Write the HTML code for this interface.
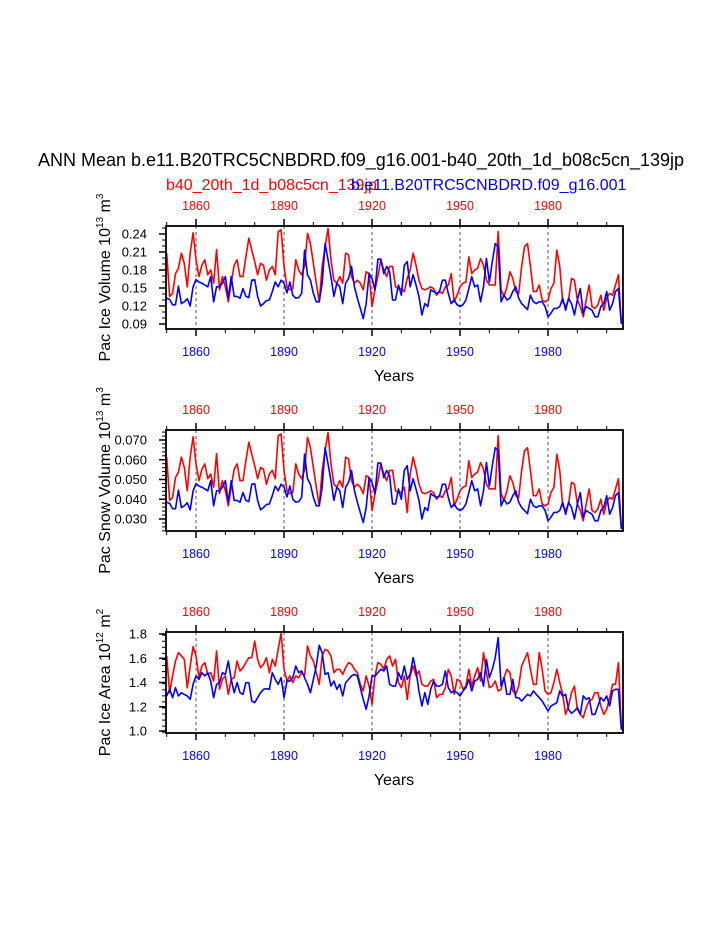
<!DOCTYPE html>
<html><head><meta charset="utf-8"><style>
html,body{margin:0;padding:0;background:#fff;}
svg{display:block;font-family:"Liberation Sans",Arial,sans-serif;}
</style></head><body>
<svg id="chart" width="723" height="935" viewBox="0 0 723 935" xmlns="http://www.w3.org/2000/svg">
<text x="361" y="166" font-size="18" text-anchor="middle" fill="#000">ANN Mean b.e11.B20TRC5CNBDRD.f09_g16.001-b40_20th_1d_b08c5cn_139jp</text>
<text x="166" y="190" font-size="16" fill="#ff0000">b40_20th_1d_b08c5cn_139jp</text>
<text x="351" y="190" font-size="16" fill="#0000ff">b.e11.B20TRC5CNBDRD.f09_g16.001</text>
<g id="plots"></g>
</svg>
<script>
const years = [];
for (let y = 1850; y <= 2005; y++) years.push(y);
const xTickYears = [1860, 1890, 1920, 1950, 1980];

const iceVolRed = [0.208,0.136,0.141,0.174,0.183,0.208,0.191,0.152,0.208,0.242,0.197,0.169,0.188,0.197,0.172,0.180,0.158,0.214,0.147,0.169,0.152,0.127,0.158,0.188,0.197,0.169,0.169,0.202,0.233,0.213,0.194,0.172,0.191,0.188,0.163,0.180,0.186,0.172,0.244,0.247,0.186,0.152,0.147,0.149,0.197,0.180,0.172,0.186,0.241,0.224,0.191,0.158,0.127,0.186,0.219,0.249,0.197,0.163,0.158,0.169,0.158,0.208,0.205,0.169,0.158,0.163,0.158,0.147,0.177,0.174,0.119,0.147,0.169,0.197,0.180,0.169,0.186,0.186,
0.152,0.149,0.149,0.144,0.166,0.180,0.208,0.188,0.163,0.149,0.147,0.149,0.152,0.149,0.138,0.144,0.141,0.152,0.155,0.174,0.127,0.138,0.152,0.158,0.160,0.202,0.174,0.180,0.183,0.199,0.188,0.163,0.155,0.155,0.155,0.244,0.147,0.136,0.152,0.177,0.166,0.144,0.141,0.186,0.219,0.224,0.186,0.144,0.144,0.155,0.130,0.127,0.130,0.149,0.158,0.213,0.186,0.127,0.119,0.130,0.166,0.163,0.130,0.119,0.102,0.130,0.155,0.119,0.116,0.122,0.138,0.113,0.133,0.141,0.138,0.155,0.172,0.090];
const iceVolBlue = [0.133,0.131,0.122,0.122,0.153,0.124,0.127,0.132,0.120,0.152,0.164,0.160,0.158,0.155,0.152,0.169,0.127,0.152,0.152,0.158,0.169,0.133,0.169,0.136,0.136,0.133,0.149,0.136,0.134,0.163,0.164,0.136,0.120,0.124,0.129,0.130,0.144,0.160,0.152,0.163,0.158,0.142,0.160,0.138,0.133,0.134,0.141,0.213,0.172,0.163,0.141,0.127,0.127,0.158,0.224,0.197,0.169,0.136,0.158,0.152,0.124,0.158,0.166,0.186,0.152,0.133,0.116,0.099,0.124,0.174,0.166,0.147,0.198,0.198,0.174,0.186,0.177,0.130,
0.130,0.155,0.138,0.188,0.194,0.152,0.172,0.155,0.136,0.105,0.124,0.119,0.147,0.144,0.141,0.144,0.163,0.163,0.141,0.124,0.130,0.122,0.119,0.122,0.130,0.149,0.169,0.152,0.155,0.127,0.152,0.199,0.160,0.194,0.224,0.219,0.127,0.138,0.130,0.133,0.144,0.152,0.133,0.124,0.119,0.114,0.138,0.127,0.124,0.127,0.127,0.119,0.102,0.108,0.116,0.116,0.119,0.133,0.113,0.133,0.124,0.105,0.130,0.149,0.108,0.119,0.116,0.113,0.102,0.102,0.119,0.124,0.144,0.113,0.124,0.144,0.149,0.090];

const snowVolRed = [0.0613,0.0394,0.0409,0.0510,0.0537,0.0613,0.0561,0.0443,0.0613,0.0716,0.0579,0.0494,0.0552,0.0579,0.0504,0.0528,0.0461,0.0631,0.0428,0.0494,0.0443,0.0367,0.0461,0.0552,0.0579,0.0494,0.0494,0.0595,0.0689,0.0628,0.0570,0.0504,0.0561,0.0552,0.0476,0.0528,0.0546,0.0504,0.0722,0.0731,0.0546,0.0443,0.0428,0.0434,0.0579,0.0528,0.0504,0.0546,0.0713,0.0661,0.0561,0.0461,0.0367,0.0546,0.0646,0.0737,0.0579,0.0476,0.0461,0.0494,0.0461,0.0613,0.0604,0.0494,0.0461,0.0476,0.0461,0.0428,0.0519,0.0510,0.0343,0.0428,0.0494,0.0579,0.0528,0.0494,0.0546,0.0546,
0.0443,0.0434,0.0434,0.0461,0.0333,0.0528,0.0613,0.0552,0.0476,0.0434,0.0428,0.0434,0.0443,0.0434,0.0400,0.0418,0.0409,0.0443,0.0452,0.0510,0.0367,0.0400,0.0443,0.0461,0.0467,0.0595,0.0510,0.0528,0.0537,0.0586,0.0552,0.0476,0.0452,0.0452,0.0452,0.0722,0.0428,0.0394,0.0443,0.0519,0.0485,0.0418,0.0409,0.0546,0.0646,0.0661,0.0546,0.0418,0.0418,0.0452,0.0376,0.0367,0.0376,0.0434,0.0461,0.0628,0.0546,0.0367,0.0343,0.0376,0.0485,0.0476,0.0376,0.0343,0.0291,0.0376,0.0452,0.0343,0.0333,0.0352,0.0400,0.0324,0.0385,0.0409,0.0400,0.0452,0.0504,0.0254];
const snowVolBlue = [0.0385,0.0379,0.0352,0.0352,0.0446,0.0358,0.0367,0.0382,0.0346,0.0443,0.0479,0.0467,0.0461,0.0452,0.0443,0.0494,0.0367,0.0443,0.0443,0.0461,0.0494,0.0385,0.0494,0.0394,0.0394,0.0385,0.0434,0.0394,0.0388,0.0476,0.0479,0.0394,0.0346,0.0358,0.0373,0.0376,0.0418,0.0467,0.0443,0.0476,0.0461,0.0412,0.0467,0.0400,0.0385,0.0388,0.0409,0.0628,0.0504,0.0476,0.0409,0.0367,0.0367,0.0461,0.0661,0.0579,0.0494,0.0394,0.0461,0.0443,0.0358,0.0461,0.0485,0.0546,0.0443,0.0385,0.0333,0.0282,0.0358,0.0510,0.0485,0.0428,0.0583,0.0583,0.0510,0.0546,0.0519,0.0376,
0.0376,0.0452,0.0400,0.0546,0.0570,0.0443,0.0504,0.0452,0.0394,0.0300,0.0358,0.0343,0.0428,0.0418,0.0409,0.0418,0.0476,0.0476,0.0409,0.0358,0.0376,0.0352,0.0343,0.0352,0.0376,0.0434,0.0494,0.0443,0.0452,0.0367,0.0443,0.0586,0.0467,0.0570,0.0661,0.0646,0.0367,0.0400,0.0376,0.0385,0.0418,0.0443,0.0385,0.0358,0.0343,0.0327,0.0400,0.0367,0.0358,0.0367,0.0367,0.0343,0.0291,0.0309,0.0333,0.0333,0.0343,0.0385,0.0324,0.0385,0.0358,0.0300,0.0376,0.0434,0.0309,0.0343,0.0333,0.0324,0.0291,0.0291,0.0343,0.0358,0.0418,0.0324,0.0358,0.0418,0.0434,0.0250];

const iceAreaRed = [1.619,1.316,1.454,1.577,1.646,1.619,1.591,1.357,1.536,1.696,1.619,1.440,1.536,1.564,1.467,1.481,1.412,1.660,1.344,1.426,1.454,1.302,1.426,1.440,1.577,1.495,1.522,1.564,1.605,1.605,1.742,1.591,1.522,1.550,1.605,1.481,1.591,1.536,1.674,1.806,1.509,1.412,1.454,1.399,1.454,1.440,1.481,1.454,1.701,1.619,1.577,1.481,1.385,1.619,1.674,1.660,1.619,1.481,1.509,1.509,1.467,1.522,1.564,1.550,1.509,1.481,1.385,1.330,1.454,1.371,1.220,1.454,1.564,1.550,1.509,1.591,1.619,1.536,
1.591,1.399,1.357,1.454,1.261,1.454,1.536,1.454,1.495,1.385,1.371,1.371,1.412,1.426,1.275,1.302,1.302,1.357,1.509,1.454,1.302,1.426,1.412,1.344,1.371,1.509,1.371,1.454,1.522,1.412,1.646,1.481,1.357,1.371,1.412,1.330,1.344,1.440,1.509,1.481,1.330,1.302,1.371,1.536,1.591,1.646,1.509,1.385,1.385,1.646,1.509,1.330,1.302,1.316,1.399,1.509,1.399,1.302,1.137,1.206,1.316,1.371,1.179,1.137,1.110,1.192,1.247,1.261,1.316,1.316,1.206,1.137,1.179,1.275,1.385,1.385,1.564,1.020];
const iceAreaBlue = [1.289,1.344,1.275,1.357,1.289,1.316,1.302,1.289,1.261,1.385,1.454,1.426,1.481,1.454,1.481,1.412,1.275,1.385,1.399,1.481,1.467,1.577,1.426,1.316,1.399,1.316,1.302,1.399,1.399,1.247,1.234,1.275,1.316,1.344,1.349,1.344,1.481,1.426,1.385,1.440,1.275,1.412,1.412,1.440,1.536,1.481,1.495,1.440,1.385,1.316,1.426,1.536,1.707,1.646,1.467,1.481,1.371,1.412,1.344,1.385,1.289,1.399,1.426,1.454,1.467,1.454,1.357,1.261,1.179,1.289,1.454,1.454,1.481,1.509,1.495,1.536,1.385,1.371,
1.371,1.481,1.426,1.536,1.426,1.467,1.605,1.495,1.330,1.206,1.316,1.220,1.344,1.412,1.371,1.371,1.385,1.495,1.357,1.316,1.330,1.316,1.289,1.330,1.357,1.426,1.330,1.412,1.426,1.481,1.371,1.591,1.440,1.509,1.605,1.770,1.371,1.440,1.302,1.302,1.426,1.275,1.275,1.247,1.275,1.302,1.289,1.330,1.302,1.275,1.247,1.206,1.165,1.206,1.220,1.234,1.330,1.289,1.302,1.179,1.146,1.165,1.192,1.137,1.289,1.261,1.275,1.137,1.137,1.206,1.275,1.247,1.289,1.206,1.330,1.344,1.344,1.010];

const panels = [
  {name:'ice-volume', top:226, bottom:329, vTop:0.24, yTop:234, vBot:0.09, yBot:324, ticks:[0.09,0.12,0.15,0.18,0.21,0.24], minorStep:0.01, minorMin:0.08, minorMax:0.25, dec:2, red:iceVolRed, blue:iceVolBlue, title:'Pac Ice Volume 10', exp:'13', unit:' m', uexp:'3'},
  {name:'snow-volume', top:430, bottom:531, vTop:0.07, yTop:440, vBot:0.03, yBot:519, ticks:[0.03,0.04,0.05,0.06,0.07], minorStep:0.002, minorMin:0.024, minorMax:0.075, dec:3, red:snowVolRed, blue:snowVolBlue, title:'Pac Snow Volume 10', exp:'13', unit:' m', uexp:'3'},
  {name:'ice-area', top:632, bottom:733, vTop:1.8, yTop:634, vBot:1.0, yBot:731, ticks:[1.0,1.2,1.4,1.6,1.8], minorStep:0.05, minorMin:0.99, minorMax:1.81, dec:1, red:iceAreaRed, blue:iceAreaBlue, title:'Pac Ice Area 10', exp:'12', unit:' m', uexp:'2'}
];
const L = 166, R = 623;
function xs(yr){ return 166.7 + (yr - 1850) * 2.9333; }
const NS = 'http://www.w3.org/2000/svg';
const root = document.getElementById('plots');
function mk(tag, attrs, parent){ const e = document.createElementNS(NS, tag); for (const k in attrs) e.setAttribute(k, attrs[k]); (parent||root).appendChild(e); return e; }

panels.forEach(p => {
  const ys = v => p.yBot + (v - p.vBot) * (p.yTop - p.yBot) / (p.vTop - p.vBot);
  const g = mk('g', {});
  
  
  const clipId = 'clip-' + p.name;
  const cp = mk('clipPath', {id: clipId}, g);
  mk('rect', {x:L, y:p.top, width:R-L, height:p.bottom-p.top}, cp);
  xTickYears.forEach(yr => {
    const l = mk('line', {x1:xs(yr), x2:xs(yr), y1:p.top, y2:p.bottom, stroke:'#555', 'stroke-width':1, 'stroke-dasharray':'3,3'}, g);
    
    
  });
  [['red', p.red, '#ff0000'], ['blue', p.blue, '#0000ff']].forEach(([nm, arr, col]) => {
    const d = arr.map((v, i) => (i ? 'L' : 'M') + xs(years[i]).toFixed(2) + ',' + ys(v).toFixed(2)).join('');
    const path = mk('path', {d: d, fill:'none', stroke: col, 'stroke-width':1.6, 'stroke-linejoin':'round', 'clip-path':'url(#' + clipId + ')'}, g);
    
    
  });
  const fr = mk('rect', {x:L, y:p.top, width:R-L, height:p.bottom-p.top, fill:'none', stroke:'#000', 'stroke-width':1.8}, g);
  
  
  for (let v = p.minorMin; v <= p.minorMax + 1e-9; v += p.minorStep) {
    const y = ys(v); if (y < p.top - 0.5 || y > p.bottom + 0.5) continue;
    mk('line', {x1:L-4, x2:L, y1:y, y2:y, stroke:'#000', 'stroke-width':1}, g);
  }
  p.ticks.forEach(v => {
    const y = ys(v);
    mk('line', {x1:L-7, x2:L, y1:y, y2:y, stroke:'#000', 'stroke-width':1.5}, g);
    const t = mk('text', {x:L-19, y:y+4.5, 'font-size':13, 'text-anchor':'end', fill:'#000'}, g);
    t.textContent = v.toFixed(p.dec);
    
    
  });
  for (let yr = 1850; yr <= 2000; yr += 10) {
    const x = xs(yr); const major = xTickYears.includes(yr);
    const len = major ? 7 : 4;
    mk('line', {x1:x, x2:x, y1:p.top-len, y2:p.top, stroke:'#000', 'stroke-width':major?1.5:1}, g);
    mk('line', {x1:x, x2:x, y1:p.bottom, y2:p.bottom+len, stroke:'#000', 'stroke-width':major?1.5:1}, g);
  }
  xTickYears.forEach(yr => {
    const tt = mk('text', {x:xs(yr), y:p.top-16, 'font-size':12.5, 'text-anchor':'middle', fill:'#ff0000'}, g);
    tt.textContent = yr;
    
    
    const tb = mk('text', {x:xs(yr), y:p.bottom+27, 'font-size':12.5, 'text-anchor':'middle', fill:'#0000ff'}, g);
    tb.textContent = yr;
    
    
  });
  const xt = mk('text', {x:394, y:p.bottom+52, 'font-size':16, 'text-anchor':'middle', fill:'#000'}, g);
  xt.textContent = 'Years';
  
  
  const cy = (p.top + p.bottom) / 2;
  const yt = mk('text', {x:0, y:0, 'font-size':16, 'text-anchor':'middle', fill:'#000', transform:'translate(110,' + cy + ') rotate(-90)'}, g);
  
  
  const s1 = document.createElementNS(NS, 'tspan'); s1.textContent = p.title; yt.appendChild(s1);
  const s2 = document.createElementNS(NS, 'tspan'); s2.setAttribute('dy', '-7'); s2.setAttribute('font-size', '10'); s2.textContent = p.exp; yt.appendChild(s2);
  const s3 = document.createElementNS(NS, 'tspan'); s3.setAttribute('dy', '7'); s3.textContent = p.unit; yt.appendChild(s3);
  const s4 = document.createElementNS(NS, 'tspan'); s4.setAttribute('dy', '-7'); s4.setAttribute('font-size', '10'); s4.textContent = p.uexp; yt.appendChild(s4);
});
</script>
</body></html>
